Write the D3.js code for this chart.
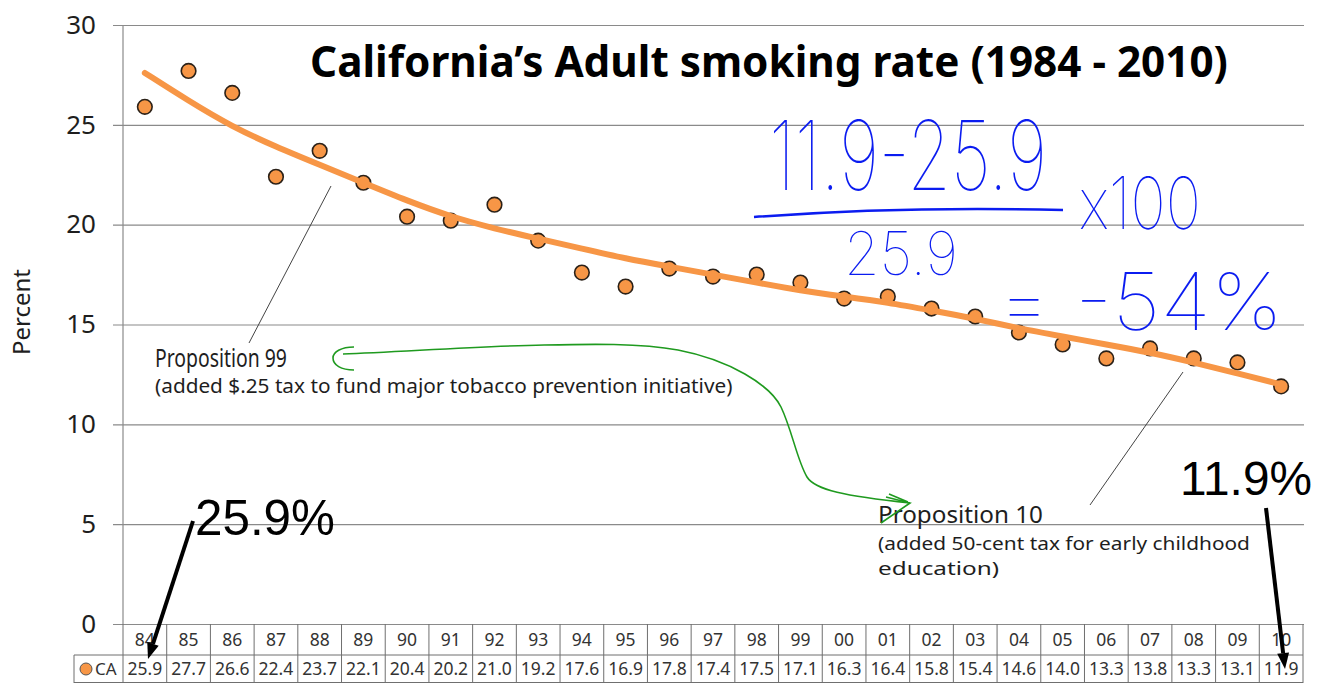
<!DOCTYPE html>
<html><head><meta charset="utf-8">
<script src="https://cdn.jsdelivr.net/npm/d3@7"></script>
<style>body{margin:0;background:#fff;} svg{display:block}</style>
</head><body>
<svg id="chart" width="1326" height="683"></svg>
<script>
// ---- data ----
const years = ["84","85","86","87","88","89","90","91","92","93","94","95","96","97","98","99","00","01","02","03","04","05","06","07","08","09","10"];
const rates = [25.9,27.7,26.6,22.4,23.7,22.1,20.4,20.2,21.0,19.2,17.6,16.9,17.8,17.4,17.5,17.1,16.3,16.4,15.8,15.4,14.6,14.0,13.3,13.8,13.3,13.1,11.9];
const trend = [27.6,26.2,24.9,23.9,23.0,22.1,21.2,20.4,19.8,19.3,18.8,18.3,17.9,17.5,17.1,16.7,16.4,16.1,15.7,15.3,14.8,14.4,14.0,13.6,13.1,12.55,12.0];
const yTicks = [0,5,10,15,20,25,30];
const seriesName = "CA";
const title = "California\u2019s Adult smoking rate (1984 - 2010)";

const svg = d3.select("#chart");
const ORANGE = "#F79646";
const GRID = "#8a8a8a";
const TXT = "#1e1e1e";
const FONT = "'Noto Sans', 'Open Sans', sans-serif";

const x = d3.scaleBand().domain(years).range([123, 1303]).padding(0);
const y = d3.scaleLinear().domain([0, 30]).range([624, 25]);
const cx = d => x(d) + x.bandwidth() / 2;

// text fitted to a width by horizontal scaling (keeps the box honest)
function fitText(txt, x0, yb, opts, width) {
  const t = svg.append("text").attr("x", 0).attr("y", 0)
    .attr("font-family", opts.family || FONT).attr("font-size", opts.size)
    .attr("font-weight", opts.weight || "normal").attr("fill", opts.fill || TXT).text(txt);
  const w = t.node().getComputedTextLength();
  t.attr("transform", `translate(${x0},${yb}) scale(${width / w},1)`);
  return t;
}

// gridlines + tick labels
const yAxis = d3.axisLeft(y).tickValues(yTicks).tickSize(-(1304 - 113)).tickPadding(17).tickFormat(d3.format("d"));
const ga = svg.append("g").attr("transform", "translate(113,0)").call(yAxis);
ga.select(".domain").remove();
ga.selectAll(".tick line").attr("stroke", GRID).attr("stroke-width", 1.2);
ga.selectAll(".tick text").attr("font-family", FONT).attr("font-size", 26).attr("fill", TXT);

// vertical axis line
svg.append("line").attr("x1", 123).attr("x2", 123).attr("y1", y(30)).attr("y2", y(0))
  .attr("stroke", GRID).attr("stroke-width", 1.2);

// y label
svg.append("text").attr("transform", "translate(30,312) rotate(-90)").attr("text-anchor", "middle")
  .attr("font-family", FONT).attr("font-size", 24).attr("fill", TXT).text("Percent");

// title
fitText(title, 310, 77, {size: 43, weight: "bold", fill: "#000"}, 918);

// markers
svg.append("g").selectAll("circle").data(years).join("circle")
  .attr("cx", d => cx(d)).attr("cy", (d, i) => y(rates[i])).attr("r", 7.3)
  .attr("fill", ORANGE).attr("stroke", "#2b2118").attr("stroke-width", 1.6);

// trend line
const line = d3.line().x((d, i) => cx(years[i])).y(d => y(d)).curve(d3.curveBasis);
svg.append("path").datum(trend).attr("d", line).attr("fill", "none")
  .attr("stroke", ORANGE).attr("stroke-width", 6).attr("stroke-linecap", "round");

// ---- data table ----
const tb = svg.append("g");
const TB = "#6f6f6f";
const rowTop = 624, rowMid = 655, rowBot = 683;
tb.append("line").attr("x1", 74).attr("x2", 1303).attr("y1", rowMid).attr("y2", rowMid).attr("stroke", TB);
tb.append("line").attr("x1", 74).attr("x2", 1303).attr("y1", rowBot - 0.5).attr("y2", rowBot - 0.5).attr("stroke", TB);
tb.append("line").attr("x1", 74).attr("x2", 74).attr("y1", rowMid).attr("y2", rowBot).attr("stroke", TB);
tb.selectAll("line.v").data(years.concat(["end"])).join("line").attr("class", "v")
  .attr("x1", d => d === "end" ? 1303 : x(d)).attr("x2", d => d === "end" ? 1303 : x(d))
  .attr("y1", rowTop).attr("y2", rowBot).attr("stroke", TB);
tb.selectAll("text.yr").data(years).join("text").attr("class", "yr")
  .attr("x", d => cx(d)).attr("y", 646).attr("text-anchor", "middle")
  .attr("font-family", FONT).attr("font-size", 17.5).attr("fill", "#333").text(d => d);
tb.selectAll("text.val").data(years).join("text").attr("class", "val")
  .attr("x", d => cx(d)).attr("y", 675).attr("text-anchor", "middle")
  .attr("font-family", FONT).attr("font-size", 17.5).attr("fill", "#333").text((d, i) => d3.format(".1f")(rates[i]));
tb.append("circle").attr("cx", 86).attr("cy", 669).attr("r", 6).attr("fill", ORANGE).attr("stroke", "#555").attr("stroke-width", 1);
tb.append("text").attr("x", 95).attr("y", 675).attr("font-family", FONT).attr("font-size", 17).attr("fill", "#333").text(seriesName);

// ---- printed annotations ----
svg.append("line").attr("x1", 331).attr("y1", 186).attr("x2", 249).attr("y2", 343).attr("stroke", "#444").attr("stroke-width", 1);
fitText("Proposition 99", 155, 367, {size: 25}, 132);
fitText("(added $.25 tax to fund major tobacco prevention initiative)", 155, 393, {size: 20}, 578);

svg.append("line").attr("x1", 1183).attr("y1", 372).attr("x2", 1090).attr("y2", 505).attr("stroke", "#444").attr("stroke-width", 1);
fitText("Proposition 10", 878, 523, {size: 23}, 165);
fitText("(added 50-cent tax for early childhood", 878, 550, {size: 18}, 372);
fitText("education)", 878, 575, {size: 18}, 121);

// ---- hand-drawn overlays ----
const GREEN = "#1f9a1f";
svg.append("path").attr("d", "M354,347 C341,347 333,352 333,358 C333,365 341,370 354,370")
  .attr("fill", "none").attr("stroke", GREEN).attr("stroke-width", 1.6);
svg.append("path").attr("d", "M343,354 C400,352 480,346 544,345 C590,344 640,343 678,350 C730,360 770,385 781,407 C792,430 797,460 807,477 C815,490 845,496 910,503")
  .attr("fill", "none").attr("stroke", GREEN).attr("stroke-width", 1.6);
svg.append("path").attr("d", "M886,497 L910,503 L881,523 M889,494 L908,502")
  .attr("fill", "none").attr("stroke", GREEN).attr("stroke-width", 1.6);

const BLUE = "#0b1cf0";
const HF = "Inter, Lato, 'DejaVu Sans', sans-serif";
function hand(txt, x0, yb, fs, w) {
  return fitText(txt, x0, yb, {family: HF, size: fs, weight: 100, fill: BLUE}, w);
}
hand("11.9-25.9", 769, 190, 96, 278);
svg.append("path").attr("d", "M754,217 Q900,206 1063,210").attr("fill", "none").attr("stroke", BLUE).attr("stroke-width", 2.5);
hand("x100", 1079, 229, 72, 122);
hand("25.9", 844, 275, 60, 114);
hand("= -54%", 997, 330, 80, 286);

// black callouts
function arrow(x1, y1, x2, y2) {
  const a = Math.atan2(y2 - y1, x2 - x1), L = 16, W = 6;
  const bx = x2 - L * Math.cos(a), by = y2 - L * Math.sin(a);
  svg.append("line").attr("x1", x1).attr("y1", y1).attr("x2", bx).attr("y2", by).attr("stroke", "#000").attr("stroke-width", 4);
  svg.append("path").attr("d", `M${x2},${y2} L${bx + W * Math.sin(a)},${by - W * Math.cos(a)} L${bx - W * Math.sin(a)},${by + W * Math.cos(a)} Z`).attr("fill", "#000");
}
const AF = "'Liberation Sans', Arial, sans-serif";
fitText("25.9%", 195, 535, {family: AF, size: 50, fill: "#000"}, 140);
fitText("11.9%", 1180, 495, {family: AF, size: 48, fill: "#000"}, 132);
arrow(193, 521, 148, 659);
arrow(1266, 508, 1285, 669);
</script>
</body></html>
